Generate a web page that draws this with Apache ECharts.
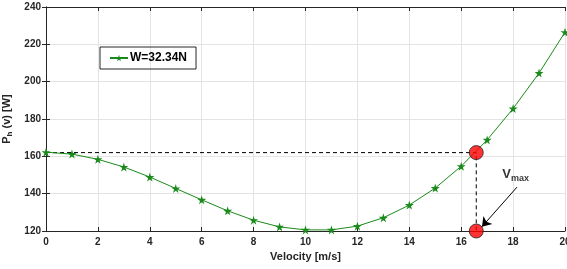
<!DOCTYPE html>
<html lang="en">
<head>
  <meta charset="UTF-8">
  <title>P_h(v) vs velocity</title>
  <script src="https://cdn.jsdelivr.net/npm/echarts@6/dist/echarts.min.js"></script>
  <style>
    html, body { margin: 0; padding: 0; background: #fff; }
    #chart { width: 567px; height: 269px; }
  </style>
</head>
<body>
  <div id="chart"></div>
<script>
  // data
  const velocity = [0, 1, 2, 3, 4, 5, 6, 7, 8, 9, 10, 11, 12, 13, 14, 15, 16, 17, 18, 19, 20];
  const power = [162.2, 161.2, 158.4, 154.3, 148.9, 142.8, 136.7, 130.8, 125.8, 122.2, 120.6, 120.6, 122.6, 127.1, 133.9, 143.0, 154.7, 168.8, 185.6, 204.6, 226.5];
  const seriesName = 'W=32.34N';
  const vMax = 16.58;
  const pAtVmax = 162;
  const yFloor = 120;
  const arrowFrom = [18.15, 143.5];
  const arrowTo = [16.8, 122.3];
  const labelAt = [18.1, 150.5];

  const star = 'path://M50,0 L61,35 L98,35 L68,57 L79,91 L50,70 L21,91 L32,57 L2,35 L39,35 Z';
  const font = 'Liberation Sans, Arial, sans-serif';
  const green = '#1a8a1a';

  const chart = echarts.init(document.getElementById('chart'));

  const tickStyle = { color: '#262626', fontSize: 10, fontWeight: 'bold', fontFamily: font };
  const axisLine = { show: true, lineStyle: { color: '#262626', width: 1 } };

  chart.setOption({
    animation: false,
    grid: { left: 46, right: 2, top: 7, bottom: 38, outerBoundsMode: 'none', containLabel: false },
    legend: {
      data: [seriesName],
      left: 100, top: 47,
      padding: [5, 9, 5, 9],
      itemGap: 2,
      borderColor: '#262626', borderWidth: 1,
      itemWidth: 18, itemHeight: 8,
      textStyle: { fontSize: 12, fontWeight: 'bold', fontFamily: font, color: '#000', padding: [0, 0, 0, -3] }
    },
    xAxis: [{
      type: 'value', min: 0, max: 20, interval: 2,
      name: 'Velocity [m/s]', nameLocation: 'middle', nameGap: 20,
      nameTextStyle: { fontSize: 11, fontWeight: 'bold', fontFamily: font, color: '#262626' },
      axisLine: axisLine,
      axisTick: { inside: true, length: 4, lineStyle: { color: '#262626' } },
      axisLabel: Object.assign({ margin: 6 }, tickStyle),
      splitLine: { lineStyle: { color: '#e3e3e3' } }
    }, {
      type: 'value', position: 'top', min: 0, max: 20, interval: 2,
      axisLine: axisLine,
      axisTick: { inside: true, length: 4, lineStyle: { color: '#262626' } },
      axisLabel: { show: false }, splitLine: { show: false }
    }],
    yAxis: [{
      type: 'value', min: 120, max: 240, interval: 20,
      name: '{m|P}{s|h}{m| (v) [W]}', nameLocation: 'middle', nameGap: 25, nameRotate: 90,
      nameTextStyle: {
        rich: {
          m: { fontSize: 11, fontWeight: 'bold', fontFamily: font, color: '#262626' },
          s: { fontSize: 8, fontWeight: 'bold', fontFamily: font, color: '#262626', verticalAlign: 'bottom', padding: [4, 0, 0, 0] }
        }
      },
      axisLine: axisLine,
      axisTick: { inside: true, length: 4, lineStyle: { color: '#262626' } },
      axisLabel: Object.assign({ margin: 5 }, tickStyle),
      splitLine: { lineStyle: { color: '#e3e3e3' } }
    }, {
      type: 'value', position: 'right', min: 120, max: 240, interval: 20,
      axisLine: axisLine,
      axisTick: { inside: true, length: 4, lineStyle: { color: '#262626' } },
      axisLabel: { show: false }, splitLine: { show: false }
    }],
    series: [
      {
        name: 'guide', type: 'line', silent: true,
        data: [[0, pAtVmax], [vMax, pAtVmax], [vMax, yFloor]],
        symbol: 'none',
        lineStyle: { color: '#000', width: 1, type: [4, 3] },
        z: 1
      },
      {
        name: seriesName, type: 'line',
        data: velocity.map((v, i) => [v, power[i]]),
        symbol: star, symbolSize: 9,
        itemStyle: { color: green },
        lineStyle: { color: green, width: 1 },
        z: 3
      },
      {
        name: 'points', type: 'scatter',
        data: [[vMax, pAtVmax], [vMax, yFloor]],
        symbolSize: 14,
        itemStyle: { color: '#ff0000', borderColor: '#222', borderWidth: 1 },
        clip: false,
        z: 5
      },
      {
        name: 'arrow', type: 'lines', coordinateSystem: 'cartesian2d',
        data: [{ coords: [arrowFrom, arrowTo] }],
        symbol: ['none', 'arrow'], symbolSize: 9,
        lineStyle: { color: '#000', width: 1, opacity: 1 },
        z: 6
      },
      {
        name: 'label', type: 'scatter',
        data: [labelAt], symbolSize: 0,
        label: {
          show: true, position: 'inside',
          formatter: '{m|V}{s|max}',
          rich: {
            m: { fontSize: 13, fontWeight: 'bold', fontFamily: font, color: '#000' },
            s: { fontSize: 9, fontWeight: 'bold', fontFamily: font, color: '#000', verticalAlign: 'bottom', padding: [9, 0, 0, 0] }
          }
        },
        z: 6
      }
    ]
  });
</script>
</body>
</html>
